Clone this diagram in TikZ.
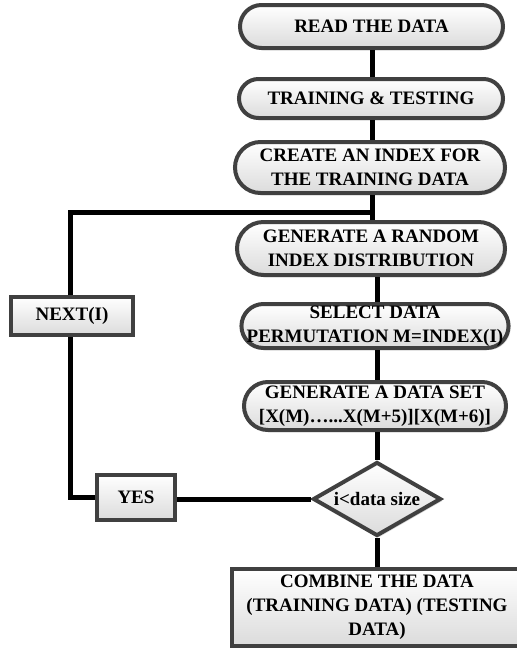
\documentclass[tikz,border=0pt]{standalone}
\usepackage{fontspec}
\setmainfont{Liberation Serif}
\usetikzlibrary{shapes.misc,shapes.geometric,shadows}
\definecolor{boxgray}{HTML}{404040}
\begin{document}
\begin{tikzpicture}[x=1pt,y=-1pt,
  box/.style={draw=boxgray, line width=4pt, top color=white, bottom color=black!14,
    font=\bfseries\fontsize{19}{24}\selectfont, align=center, inner sep=0pt,
    drop shadow={shadow xshift=2pt, shadow yshift=-2pt, fill=black!30, opacity=0.5}},
  stadium/.style={box, rounded rectangle},
  plainbox/.style={box, rectangle},
  decision/.style={box, diamond, aspect=1.7},
  link/.style={line width=5pt, black}]
\useasboundingbox (0,0) rectangle (517,649);

\node[stadium, minimum width=263pt, minimum height=43pt] (read) at (371.5,26.5) {READ THE DATA};
\node[stadium, minimum width=264pt, minimum height=39pt] (train) at (371,98.5) {TRAINING \& TESTING};
\node[stadium, minimum width=270pt, minimum height=51pt] (create) at (370,167.5) {CREATE AN INDEX FOR\\THE TRAINING DATA};
\node[stadium, minimum width=268pt, minimum height=53pt] (random) at (371,248.5) {GENERATE A RANDOM\\INDEX DISTRIBUTION};
\node[stadium, minimum width=256pt, minimum height=44pt] (select) at (375,326) {SELECT DATA\\\makebox[240pt]{PERMUTATION M=INDEX(I)}};
\node[stadium, minimum width=262pt, minimum height=48pt] (dataset) at (375,406) {GENERATE A DATA SET\\{}[X(M)…...X(M+5)][X(M+6)]};
\node[decision, minimum width=128pt, minimum height=74pt] (dec) at (377,499) {i<data size};
\node[plainbox, minimum width=291pt, minimum height=77pt] (combine) at (377,607.5) {COMBINE THE DATA\\(TRAINING DATA) (TESTING\\DATA)};
\node[plainbox, minimum width=122pt, minimum height=38pt] (next) at (72,316) {NEXT(I)};
\node[plainbox, minimum width=78pt, minimum height=45pt] (yes) at (136,497.5) {YES};

\coordinate (j) at (372,212);
\coordinate (l) at (377,0);
\coordinate (c) at (70,497.5);

\draw[link] (read.south -| j) -- (train.north -| j);
\draw[link] (train.south -| j) -- (create.north -| j);
\draw[link] (create.south -| j) -- (random.north -| j);
\draw[link] (random.south -| l) -- (select.north -| l);
\draw[link] (select.south -| l) -- (dataset.north -| l);
\draw[link] (dataset.south -| l) -- (dec.north);
\draw[link] (dec.south) -- (combine.north -| dec.south);
\draw[link] (dec.west) -- (yes.east |- dec.west);
\draw[link] (yes.west) -- (c) -- (next.south -| c);
\draw[link] (next.north -| c) |- (j);
\end{tikzpicture}
\end{document}
